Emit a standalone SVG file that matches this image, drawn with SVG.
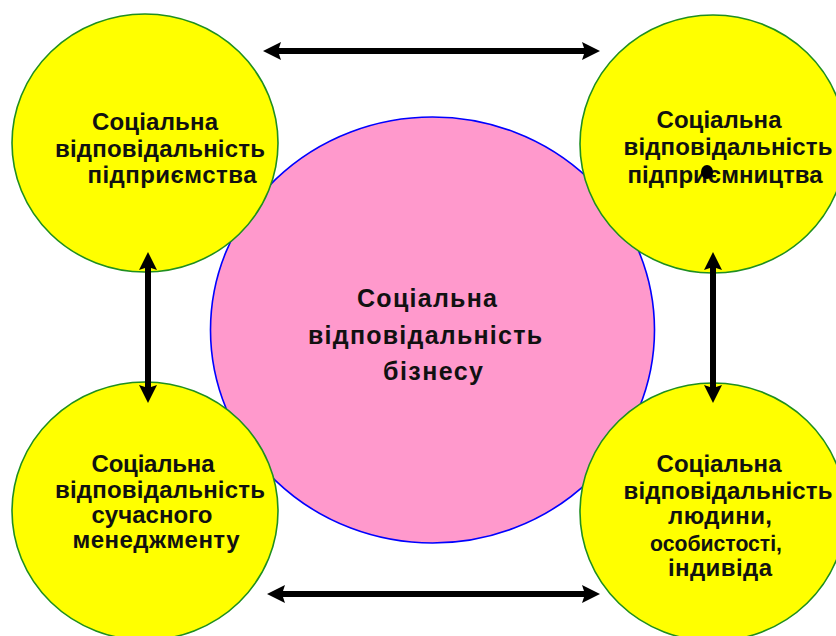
<svg xmlns="http://www.w3.org/2000/svg" width="836" height="636" viewBox="0 0 836 636">
<style>
.bg{fill:#ffffff}
.side{fill:#ffff00;stroke:#1f8f1f;stroke-width:1.6}
.core{fill:#ff99cc;stroke:#0000ff;stroke-width:1.6}
text{font-family:"Liberation Sans",Arial,sans-serif;font-weight:bold;font-size:24px;fill:#111111;text-anchor:middle}
.big{font-size:25px}
.tight{font-size:22px}
.link{stroke:#000000;stroke-width:6;fill:none;marker-start:url(#ah);marker-end:url(#ah)}
</style>
<defs>
<marker id="ah" markerUnits="userSpaceOnUse" viewBox="0 0 18 18" markerWidth="18" markerHeight="18" refX="3" refY="9" orient="auto-start-reverse">
<path d="M0,0 L18,9 L0,18 L3,9 Z" fill="#000000"/>
</marker>
</defs>
<rect class="bg" x="0" y="0" width="836" height="636"/>
<g id="center">
<ellipse class="core" cx="432.5" cy="330" rx="222" ry="213"/>
<text class="big" x="427" y="307" textLength="140" lengthAdjust="spacing">Соціальна</text>
<text class="big" x="425" y="344" textLength="234" lengthAdjust="spacing">відповідальність</text>
<text class="big" x="433" y="380" textLength="100" lengthAdjust="spacing">бізнесу</text>
</g>
<g id="enterprise">
<ellipse class="side" cx="145" cy="143" rx="133" ry="129"/>
<text x="155" y="130" textLength="126" lengthAdjust="spacing">Соціальна</text>
<text x="160" y="157" textLength="210" lengthAdjust="spacing">відповідальність</text>
<text x="172" y="183" textLength="169" lengthAdjust="spacing">підприємства</text>
</g>
<g id="entrepreneurship">
<ellipse class="side" cx="713" cy="144" rx="133" ry="129"/>
<text x="719" y="128" textLength="125" lengthAdjust="spacing">Соціальна</text>
<text x="728" y="155" textLength="209" lengthAdjust="spacing">відповідальність</text>
<text x="725" y="183" textLength="195" lengthAdjust="spacing">підприємництва</text>
<ellipse cx="707" cy="172" rx="6" ry="7" fill="#000000"/>
</g>
<g id="management">
<ellipse class="side" cx="145" cy="511" rx="133" ry="129"/>
<text x="153" y="472" textLength="123" lengthAdjust="spacing">Соціальна</text>
<text x="160" y="498" textLength="210" lengthAdjust="spacing">відповідальність</text>
<text x="152" y="523" textLength="121" lengthAdjust="spacing">сучасного</text>
<text x="156" y="548" textLength="167" lengthAdjust="spacing">менеджменту</text>
</g>
<g id="person">
<ellipse class="side" cx="713" cy="512" rx="133" ry="129"/>
<text x="719" y="472" textLength="125" lengthAdjust="spacing">Соціальна</text>
<text x="728" y="499" textLength="209" lengthAdjust="spacing">відповідальність</text>
<text x="720" y="524" textLength="104" lengthAdjust="spacing">людини,</text>
<text class="tight" x="716" y="551" textLength="132" lengthAdjust="spacingAndGlyphs">особистості,</text>
<text x="720" y="576" textLength="104" lengthAdjust="spacing">індивіда</text>
</g>
<g id="connectors">
<line class="link" x1="278" y1="51" x2="585" y2="51"/>
<line class="link" x1="282" y1="594" x2="585" y2="594"/>
<line class="link" x1="148" y1="267" x2="148" y2="388"/>
<line class="link" x1="713" y1="267" x2="713" y2="388"/>
</g>
</svg>
